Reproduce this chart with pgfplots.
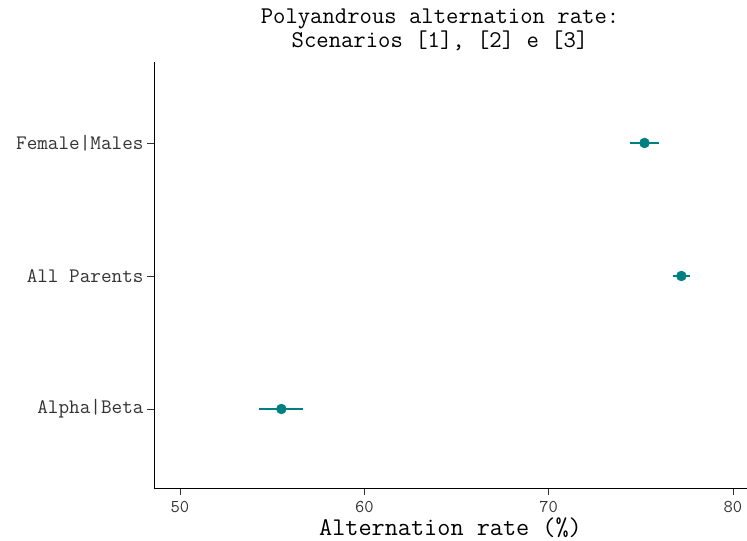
\documentclass[border=0pt]{standalone}
\usepackage{pgfplots}
\pgfplotsset{compat=1.18}
\usepackage{fontspec}
\definecolor{pt}{HTML}{008080}
\definecolor{tk}{HTML}{333333}
\begin{document}
\begin{tikzpicture}[x=1bp,y=1bp]
\begin{axis}[
  at={(0,0)}, anchor=south west,
  scale only axis, width=593bp, height=426bp,
  xmin=48.59, xmax=80.76, ymin=0.406, ymax=3.609,
  axis lines*=left,
  axis line style={black, line width=0.8bp},
  xtick={50,60,70,80},
  xticklabels={50,60,70,80},
  ytick={1,2,3},
  yticklabels={Alpha|Beta, All Parents, Female|Males},
  tick align=outside, tick style={tk, line width=0.8bp},
  major tick length=7bp,
  xticklabel style={font=\ttfamily\fontsize{18bp}{20bp}\selectfont, text=tk, yshift=-3bp},
  yticklabel style={font=\ttfamily\fontsize{20.6bp}{22bp}\selectfont, text=tk},
  xlabel={Alternation rate (\%)},
  xlabel style={font=\ttfamily\fontsize{25.5bp}{27bp}\selectfont, at={(axis description cs:0.5,0)}, anchor=north, yshift=-26bp},
  clip=false,
]
\addplot+[only marks, mark=*, mark size=5bp, color=pt, mark options={fill=pt, draw=pt},
  error bars/.cd, x dir=both, x explicit, error mark=none,
  error bar style={line width=1.4bp, color=pt}]
coordinates {
  (55.5,1) +- (1.2,0)
  (77.2,2) +- (0.45,0)
  (75.2,3) +- (0.8,0)
};
\end{axis}
\node[font=\ttfamily\fontsize{24bp}{24bp}\selectfont, align=center, anchor=north] at (286bp,483bp) {Polyandrous alternation rate:\\Scenarios [1], [2] e [3]};
\pgfresetboundingbox
\path (-154bp,-53bp) rectangle (593bp,488bp);
\end{tikzpicture}
\end{document}
